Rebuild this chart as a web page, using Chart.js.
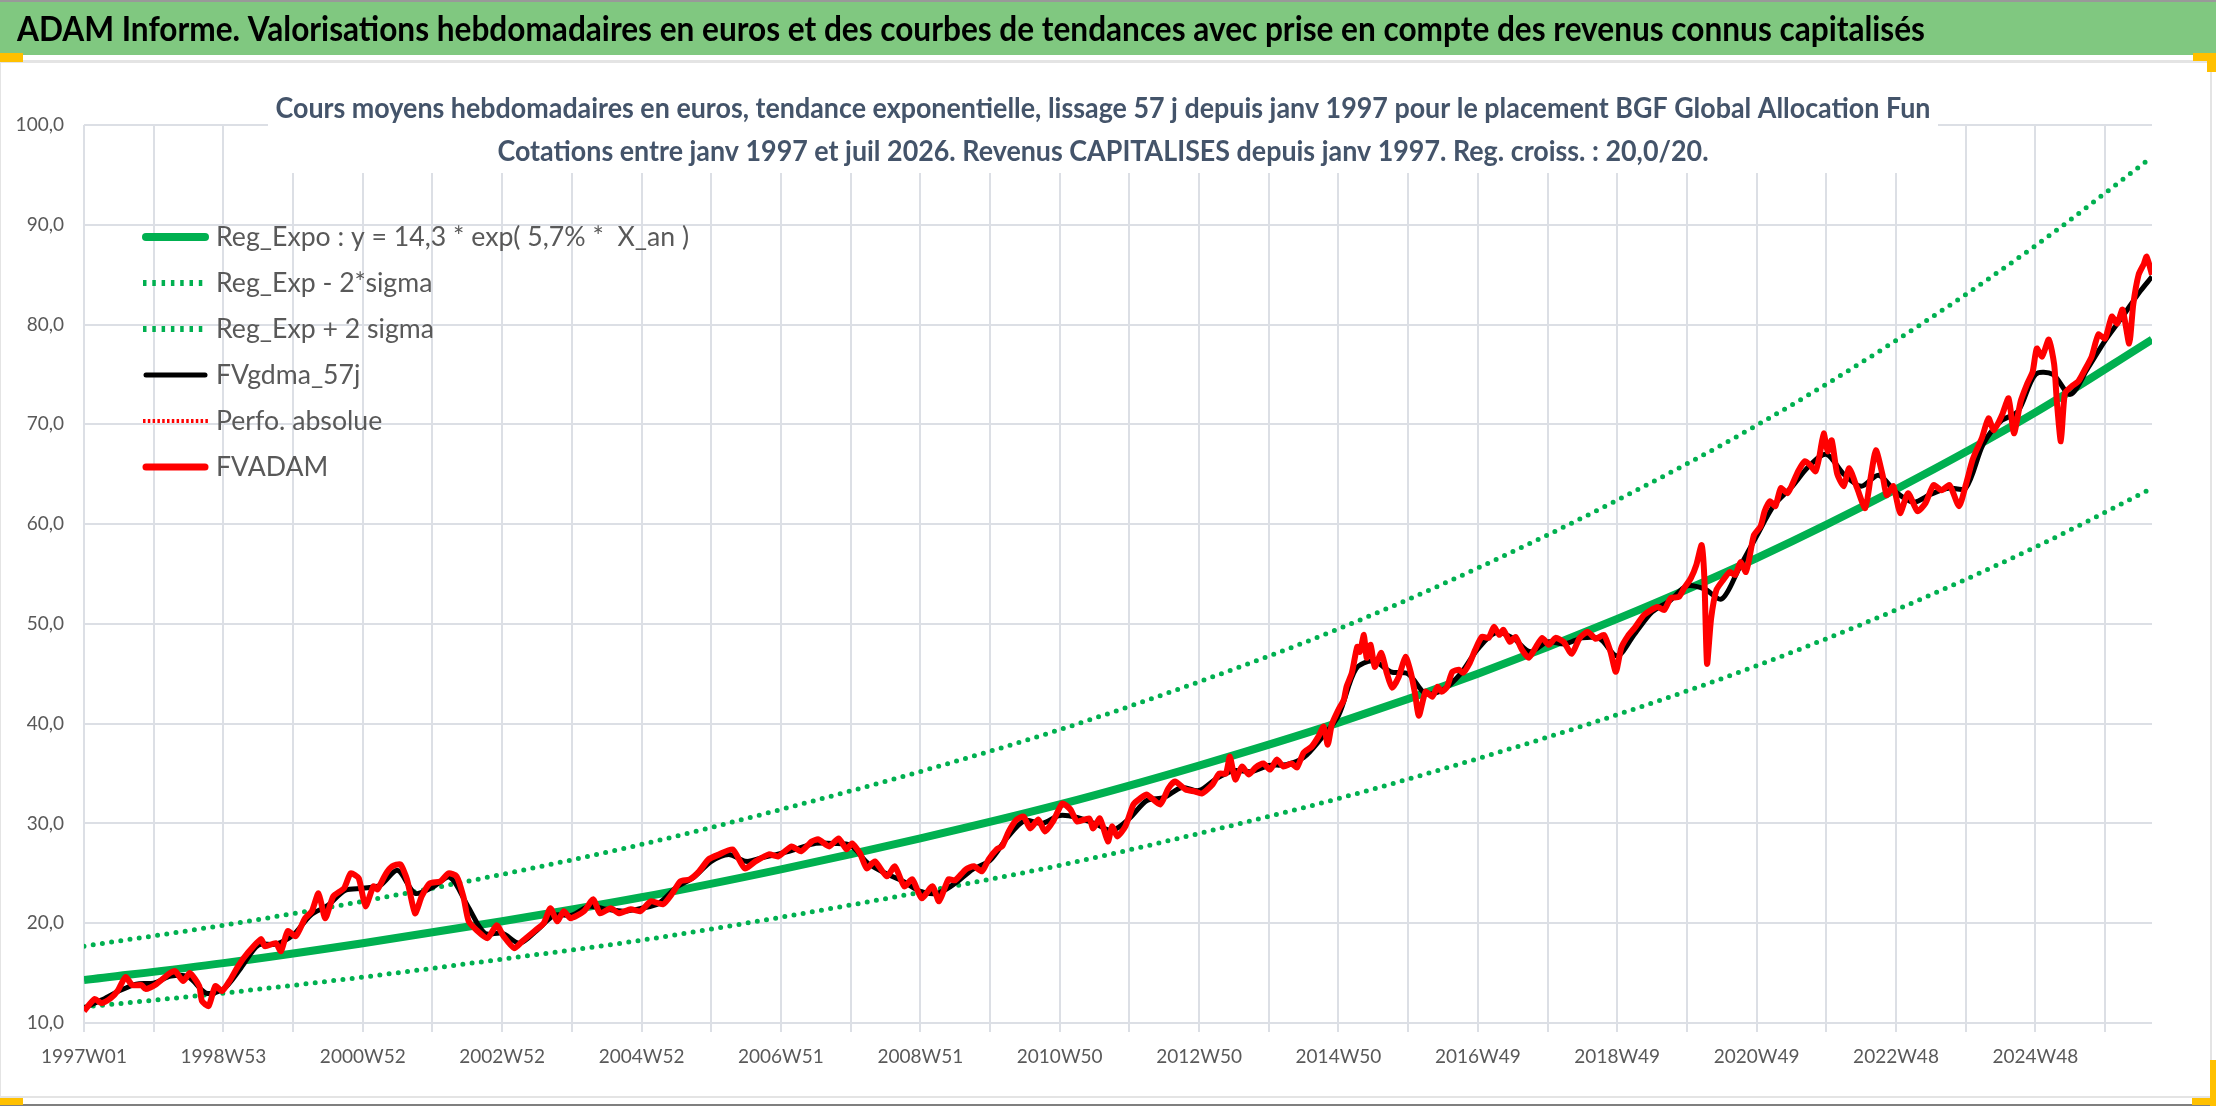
<!DOCTYPE html>
<html><head><meta charset="utf-8">
<script src="https://cdn.jsdelivr.net/npm/chart.js@4.4.1/dist/chart.umd.min.js"></script>
<style>
html,body{margin:0;padding:0;background:#fff;overflow:hidden}
#wrap{position:absolute;left:0;top:0;width:2216px;height:1106px}
</style></head>
<body><div id="wrap"><canvas id="c"></canvas></div>
<script>
// ---------- texts ----------
const pageTitle = "ADAM Informe. Valorisations hebdomadaires en euros et des courbes de tendances avec prise en compte des revenus connus capitalisés";
const chartTitleLines = [
  "Cours moyens hebdomadaires en euros, tendance exponentielle, lissage 57 j depuis janv 1997 pour le placement BGF Global Allocation Fun",
  "Cotations entre janv 1997 et juil 2026. Revenus CAPITALISES depuis janv 1997. Reg. croiss. : 20,0/20."
];
const seriesNames = ["Reg_Expo : y = 14,3 * exp( 5,7% *  X_an )", "Reg_Exp - 2*sigma", "Reg_Exp + 2 sigma", "FVgdma_57j", "Perfo. absolue", "FVADAM"];

// ---------- axis ----------
const tickLabels = ["1997W01","1998W53","2000W52","2002W52","2004W52","2006W51","2008W51","2010W50","2012W50","2014W50","2016W49","2018W49","2020W49","2022W48","2024W48"];
const weeksPerLabel = 104;
const weeksPerGrid = 52;
const lastWeek = 1543;

// ---------- regression curves (read at each label week + last week) ----------
const trendWeeks = [0,104,208,312,416,520,624,728,832,936,1040,1144,1248,1352,1456,1543];
const regExpo    = [14.3,16.0,18.0,20.2,22.6,25.4,28.5,31.9,35.8,40.1,45.0,50.5,56.6,63.5,71.2,78.5];
const regMinus2s = [11.6,13.0,14.6,16.4,18.3,20.6,23.1,25.8,29.0,32.5,36.5,40.9,45.8,51.4,57.7,63.6];
const regPlus2s  = [17.7,19.8,22.2,24.9,27.9,31.4,35.2,39.4,44.2,49.5,55.6,62.4,69.9,78.4,87.9,96.8];

// ---------- smoothed series [week, value] ----------
const fvgdma57 = [[0,11.5],[13,12.3],[26,13.2],[39,13.9],[52,14.0],[65,14.7],[78,14.6],[91,13.0],[104,13.4],[117,15.5],[130,17.8],[143,17.9],[156,18.8],[169,20.8],[182,21.8],[195,23.3],[208,23.5],[221,23.8],[234,25.3],[247,23.0],[260,23.6],[273,24.6],[286,21.8],[299,19.0],[312,19.0],[325,18.0],[338,19.3],[351,20.8],[364,20.8],[377,21.7],[390,21.4],[403,21.2],[416,21.5],[429,22.0],[442,23.6],[455,24.6],[468,26.2],[481,26.9],[494,26.2],[507,26.6],[520,27.0],[533,27.5],[546,28.0],[559,28.0],[572,27.8],[585,26.0],[598,25.0],[611,24.2],[624,23.2],[637,23.0],[650,24.0],[663,25.4],[676,26.3],[689,28.6],[702,30.3],[715,30.0],[728,30.8],[741,30.6],[754,30.0],[767,29.3],[780,30.5],[793,32.3],[806,32.6],[819,33.6],[832,33.3],[845,34.5],[858,35.3],[871,35.2],[884,35.8],[897,35.9],[910,36.6],[923,38.5],[936,40.8],[949,45.5],[962,46.3],[975,45.2],[988,45.0],[1001,43.0],[1014,43.4],[1027,45.0],[1040,47.5],[1053,49.1],[1066,48.6],[1079,47.2],[1092,48.2],[1105,48.0],[1118,48.6],[1131,48.5],[1144,46.8],[1157,49.0],[1170,51.2],[1183,52.3],[1196,53.8],[1209,53.5],[1222,52.5],[1235,55.6],[1248,58.8],[1261,61.9],[1274,63.7],[1287,65.8],[1300,67.0],[1313,65.0],[1326,63.8],[1339,64.9],[1352,63.2],[1365,62.2],[1378,63.0],[1391,63.6],[1404,63.6],[1417,68.0],[1430,70.3],[1443,71.3],[1456,75.0],[1469,75.0],[1482,73.0],[1495,75.6],[1508,78.4],[1521,80.8],[1534,83.3],[1543,84.8]];

// ---------- weekly valuations [week, value] ----------
const fvadam = [[0,11.2],[8,12.4],[13,12.0],[20,12.5],[25,13.2],[31,14.6],[36,13.8],[43,13.8],[46,13.4],[53,13.8],[64,15.0],[68,15.2],[74,14.2],[79,15.0],[86,13.7],[88,12.2],[93,11.7],[98,13.7],[103,13.2],[109,14.3],[115,15.7],[122,17.0],[132,18.4],[135,17.7],[143,18.0],[147,17.2],[152,19.2],[158,18.7],[165,20.5],[170,21.2],[175,23.0],[180,20.5],[186,22.7],[194,23.5],[199,25.0],[205,24.5],[210,21.7],[216,23.7],[219,23.4],[225,24.9],[230,25.7],[236,25.9],[241,24.4],[247,21.0],[252,22.7],[258,24.0],[266,24.2],[272,25.0],[278,24.7],[283,22.7],[287,20.2],[293,19.3],[301,18.5],[308,19.8],[313,18.7],[321,17.5],[327,18.2],[336,19.2],[343,20.0],[348,21.5],[353,20.2],[358,21.2],[363,20.5],[373,21.2],[380,22.4],[385,21.0],[393,21.5],[399,21.0],[408,21.4],[415,21.2],[423,22.2],[432,21.9],[439,23.0],[445,24.2],[452,24.4],[459,25.2],[466,26.4],[474,26.9],[484,27.4],[493,25.5],[501,26.2],[511,26.9],[518,26.7],[528,27.7],[535,27.2],[543,28.2],[548,28.4],[556,27.7],[563,28.5],[569,27.4],[573,28.0],[579,27.0],[584,25.5],[590,26.2],[599,24.7],[605,25.7],[612,23.7],[618,24.4],[625,22.5],[633,23.7],[638,22.2],[645,24.4],[650,24.3],[658,25.4],[664,25.7],[670,25.2],[675,26.4],[681,27.4],[685,27.7],[690,29.2],[696,30.4],[701,30.7],[706,29.5],[712,30.4],[717,29.2],[723,30.2],[730,32.0],[736,31.4],[741,30.2],[750,30.5],[753,29.5],[758,30.5],[764,28.2],[767,29.7],[771,28.7],[777,29.7],[783,31.9],[788,32.5],[793,32.9],[803,31.9],[809,33.5],[814,34.2],[822,33.4],[829,33.2],[834,33.0],[842,33.9],[847,35.0],[852,35.0],[855,36.7],[859,34.4],[864,35.7],[869,34.9],[874,35.6],[880,36.0],[885,35.4],[890,36.4],[895,35.7],[901,36.0],[905,35.6],[910,37.1],[916,37.7],[921,38.7],[925,39.7],[928,37.9],[931,39.9],[936,41.4],[940,42.4],[942,43.7],[946,45.1],[950,47.7],[952,47.2],[955,48.9],[957,46.6],[960,47.9],[963,45.7],[968,47.1],[972,45.1],[976,43.6],[981,44.7],[986,46.7],[990,45.1],[993,43.1],[996,40.8],[1001,43.2],[1006,42.7],[1010,43.7],[1013,43.2],[1017,43.7],[1021,45.2],[1026,45.4],[1029,45.1],[1034,46.1],[1038,47.4],[1043,48.7],[1048,48.6],[1052,49.7],[1056,48.9],[1059,49.4],[1064,48.2],[1068,48.7],[1073,47.4],[1078,46.6],[1083,47.6],[1088,48.6],[1093,47.9],[1098,48.6],[1104,48.2],[1110,47.0],[1116,48.6],[1122,49.2],[1128,48.5],[1134,48.9],[1139,47.2],[1143,45.2],[1147,47.6],[1152,48.8],[1157,49.6],[1164,50.9],[1174,51.7],[1179,51.4],[1184,52.6],[1190,52.7],[1194,53.6],[1199,54.6],[1203,55.9],[1207,57.9],[1209,54.6],[1211,46.0],[1214,50.5],[1218,53.4],[1223,54.4],[1228,55.2],[1232,54.9],[1236,56.2],[1240,55.2],[1243,56.9],[1246,58.9],[1251,59.8],[1254,61.3],[1258,62.3],[1262,61.8],[1266,63.6],[1271,63.1],[1274,63.8],[1279,65.3],[1284,66.3],[1288,65.9],[1292,65.3],[1295,66.9],[1298,69.1],[1301,67.3],[1304,68.4],[1308,65.1],[1313,63.8],[1317,65.6],[1323,63.6],[1329,61.6],[1333,64.6],[1337,67.4],[1342,64.9],[1345,62.9],[1350,63.8],[1355,61.1],[1361,63.1],[1368,61.3],[1374,62.1],[1380,63.9],[1386,63.4],[1392,63.9],[1399,61.8],[1404,63.9],[1409,66.4],[1412,67.4],[1416,68.6],[1421,70.6],[1425,69.4],[1431,70.9],[1436,72.6],[1440,69.1],[1445,72.3],[1450,74.1],[1454,75.3],[1457,77.6],[1461,76.8],[1466,78.5],[1470,76.0],[1472,72.3],[1475,68.3],[1478,73.1],[1483,73.8],[1488,74.3],[1493,75.5],[1498,76.8],[1503,79.0],[1508,78.6],[1513,80.8],[1517,80.1],[1521,81.5],[1526,78.1],[1529,82.0],[1533,85.0],[1537,86.1],[1539,86.8],[1543,85.0]];
const perfoAbsolue = [];

// ---------- styling ----------
const FONT = "Lato, 'Open Sans', sans-serif";
const GREEN = '#00B050', RED = '#FF0000', BLACK = '#000000';
const GRID = '#DCDFE5';
const AXIS_TXT = '#595959';
const TITLE_TXT = '#44546A';

const trendPts = vals => trendWeeks.map((w, i) => ({x: w, y: vals[i]}));
const pairPts = arr => arr.map(p => ({x: p[0], y: p[1]}));

// draws text at a given font size, squeezed horizontally to a target width (Calibri-like proportions)
function drawFitted(ctx, text, x, y, weight, size, targetW, align, sxFixed) {
  ctx.font = weight + ' ' + size + 'px ' + FONT;
  const w = ctx.measureText(text).width;
  const sx = sxFixed || targetW / w;
  ctx.save();
  ctx.translate(x, y);
  ctx.scale(sx, 1);
  ctx.textAlign = align; ctx.textBaseline = 'middle';
  ctx.fillText(text, 0, 0);
  ctx.restore();
  return sx;
}

const decor = {
  id: 'decor',
  beforeDraw(chart) {
    const ctx = chart.ctx, W = chart.width, H = chart.height;
    ctx.save();
    ctx.fillStyle = '#fff'; ctx.fillRect(0, 0, W, H);
    // title bar
    ctx.fillStyle = '#999'; ctx.fillRect(0, 0, W, 2);
    ctx.fillStyle = '#80C880'; ctx.fillRect(0, 2, W, 53);
    ctx.fillStyle = '#E4E4E4'; ctx.fillRect(0, 60, W, 3);
    ctx.fillStyle = '#000';
    drawFitted(ctx, pageTitle, 17, 30, 'bold', 34, 1908, 'left');
    // frame
    ctx.fillStyle = '#E4E4E4';
    ctx.fillRect(2210, 63, 2, 1034);
    ctx.fillRect(0, 1096, W, 2);
    ctx.fillRect(0, 63, 1, 1034);
    ctx.fillStyle = '#7F7F7F'; ctx.fillRect(0, 1104, W, 2);
    // selection handles
    ctx.fillStyle = '#FFC000';
    ctx.fillRect(0, 53, 23, 9);
    ctx.fillRect(2193, 53, 23, 8); ctx.fillRect(2207, 53, 9, 19);
    ctx.fillRect(2210, 1060, 6, 46); ctx.fillRect(2192, 1098, 24, 7);
    ctx.fillRect(0, 1098, 23, 7);
    ctx.restore();
  },
  afterDraw(chart) {
    const ctx = chart.ctx;
    ctx.save();
    // chart title box over plot
    ctx.fillStyle = '#fff';
    ctx.fillRect(268, 118, 1670, 55);
    ctx.fillStyle = TITLE_TXT;
    const sx = drawFitted(ctx, chartTitleLines[0], 1103, 109, 'bold', 28, 1655, 'center');
    drawFitted(ctx, chartTitleLines[1], 1103, 152, 'bold', 28, 0, 'center', sx);
    // legend
    const sym = [
      {c: GREEN, w: 8, d: [], cap: 'round'},
      {c: GREEN, w: 6, d: [3.5, 5.8], cap: 'butt'},
      {c: GREEN, w: 6, d: [3.5, 5.8], cap: 'butt'},
      {c: BLACK, w: 5, d: [], cap: 'round'},
      {c: RED, w: 4, d: [2.5, 2.3], cap: 'butt'},
      {c: RED, w: 7, d: [], cap: 'round'}
    ];
    let lsx = 0;
    seriesNames.forEach((name, i) => {
      const y = 237 + i * 46;
      const st = sym[i];
      ctx.beginPath();
      ctx.strokeStyle = st.c; ctx.lineWidth = st.w; ctx.setLineDash(st.d); ctx.lineCap = st.cap;
      ctx.moveTo(st.cap === 'round' ? 146 : 143, y); ctx.lineTo(st.cap === 'round' ? 205 : 208, y);
      ctx.stroke();
      ctx.setLineDash([]);
      ctx.fillStyle = AXIS_TXT;
      if (i === 0) lsx = drawFitted(ctx, name, 216, y, 'normal', 27, 473, 'left');
      else drawFitted(ctx, name, 216, y, 'normal', 27, 0, 'left', lsx);
    });
    ctx.restore();
  }
};

new Chart(document.getElementById('c'), {
  type: 'line',
  data: {
    datasets: [
      {label: seriesNames[0], data: trendPts(regExpo), borderColor: GREEN, borderWidth: 8, cubicInterpolationMode: 'monotone', order: 3},
      {label: seriesNames[1], data: trendPts(regMinus2s), borderColor: GREEN, borderWidth: 5, borderDash: [0, 9.3], borderCapStyle: 'round', cubicInterpolationMode: 'monotone', order: 4},
      {label: seriesNames[2], data: trendPts(regPlus2s), borderColor: GREEN, borderWidth: 5, borderDash: [0, 9.3], borderCapStyle: 'round', cubicInterpolationMode: 'monotone', order: 5},
      {label: seriesNames[3], data: pairPts(fvgdma57), borderColor: BLACK, borderWidth: 5, tension: 0.3, order: 1},
      {label: seriesNames[4], data: pairPts(perfoAbsolue), borderColor: RED, borderWidth: 3, borderDash: [2.5, 2.3], order: 2},
      {label: seriesNames[5], data: pairPts(fvadam), borderColor: RED, borderWidth: 6, tension: 0.2, borderJoinStyle: 'round', order: 0}
    ]
  },
  options: {
    responsive: true, maintainAspectRatio: false, animation: false,
    elements: {point: {radius: 0, hoverRadius: 0}, line: {fill: false}},
    layout: {padding: {left: 0, right: 64, top: 125, bottom: 0}},
    plugins: {legend: {display: false}, title: {display: false}, tooltip: {enabled: false}},
    events: [],
    scales: {
      x: {
        type: 'linear', min: 0, max: lastWeek,
        afterBuildTicks(scale) {
          const t = [];
          for (let w = 0; w <= lastWeek; w += weeksPerGrid) t.push({value: w});
          scale.ticks = t;
        },
        afterFit(scale) { scale.height = 83; },
        ticks: {
          autoSkip: false, maxRotation: 0, minRotation: 0, padding: 13,
          color: AXIS_TXT, font: {family: FONT, size: 19},
          callback: v => (v % weeksPerLabel === 0 ? (tickLabels[v / weeksPerLabel] || '') : '')
        },
        grid: {color: GRID, lineWidth: 2, drawTicks: true, tickLength: 9},
        border: {display: false}
      },
      y: {
        min: 10, max: 100,
        afterFit(scale) { scale.width = 84; },
        ticks: {stepSize: 10, padding: 20, color: AXIS_TXT, font: {family: FONT, size: 19},
          callback: v => v.toFixed(1).replace('.', ',')},
        grid: {color: GRID, lineWidth: 2, drawTicks: false},
        border: {display: false}
      }
    }
  },
  plugins: [decor]
});
</script>
</body></html>
